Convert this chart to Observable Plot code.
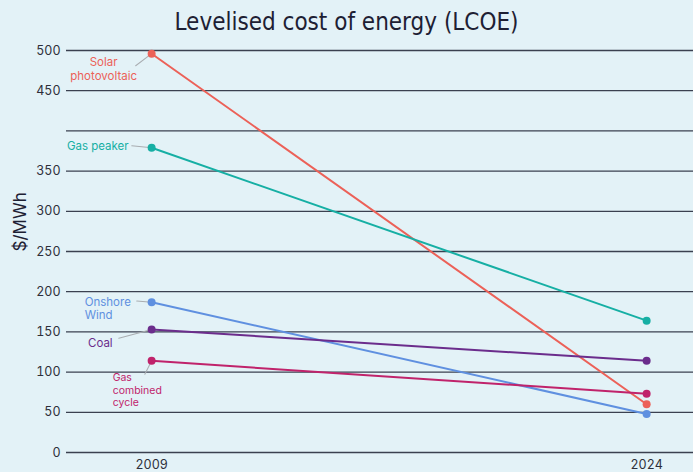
<!DOCTYPE html>
<html><head><meta charset="utf-8">
<script src="https://cdn.jsdelivr.net/npm/d3@7"></script>
<script src="https://cdn.jsdelivr.net/npm/@observablehq/plot@0.6"></script>
<style>
html,body{margin:0;padding:0;background:#e3f2f7;width:693px;height:472px;overflow:hidden;}
#title{height:40px;line-height:44px;text-align:center;font-family:"Liberation Sans Narrow","DejaVu Sans Condensed",sans-serif;font-size:24px;color:#1d2033;}
#chart svg{display:block;}
</style></head><body>
<div id="title">Levelised cost of energy (LCOE)</div>
<div id="chart"></div>
<script>
const series = ["Solar photovoltaic", "Gas peaker", "Onshore wind", "Coal", "Gas combined cycle"];
const seriesLabels = ["Solar\nphotovoltaic", "Gas peaker", "Onshore\nWind", "Coal", "Gas\ncombined\ncycle"];
const years = [2009, 2024];
const values2009 = [496, 379, 187, 153, 114];
const values2024 = [60, 164, 48, 114, 73];
const gridTicks = [0, 50, 100, 150, 200, 250, 300, 350, 400, 450, 500];
const yTickLabels = [0, 50, 100, 150, 200, 250, 300, 350, 450, 500];
const yLabel = "$/MWh";

const colors = ["#ec6158", "#16afa4", "#5f90e0", "#6b2d8c", "#c0236b"];
const labelStyle = [
  {anchor: "middle", dx: -48, dy: 15, lineHeight: 1.25, fontSize: 11.5, rotate: 233, length: 20},
  {anchor: "end", dx: -23, dy: -2, lineHeight: 1.2, fontSize: 11.5, rotate: 276, length: 20},
  {anchor: "start", dx: -67, dy: 6, lineHeight: 1.2, fontSize: 11.5, rotate: 274, length: 15},
  {anchor: "end", dx: -39, dy: 13, lineHeight: 1.2, fontSize: 11.5, rotate: 255, length: 34},
  {anchor: "start", dx: -39, dy: 29, lineHeight: 1.2, fontSize: 10.5, rotate: 207, length: 15}
];

const rows = [];
series.forEach((s, i) => {
  rows.push({series: s, year: years[0], value: values2009[i], label: seriesLabels[i]});
  rows.push({series: s, year: years[1], value: values2024[i], label: seriesLabels[i]});
});

const leaderShape = {draw(context, l) { context.moveTo(0, 0); context.lineTo(0, -l); }};

const labelMarks = [];
series.forEach((s, i) => {
  const st = labelStyle[i];
  const r = rows.filter(d => d.series === s && d.year === years[0]);
  labelMarks.push(Plot.vector(r, {x: "year", y: "value", anchor: "start", rotate: st.rotate, length: st.length,
    shape: leaderShape, stroke: "#a9adb1", strokeWidth: 1}));
  labelMarks.push(Plot.text(r, {x: "year", y: "value", text: "label", textAnchor: st.anchor, dx: st.dx, dy: st.dy,
    lineHeight: st.lineHeight, fill: colors[i], fontSize: st.fontSize}));
});

const chart = Plot.plot({
  width: 693,
  height: 432,
  marginTop: 10,
  marginBottom: 20,
  marginLeft: 66,
  marginRight: 0,
  style: {background: "transparent", fontFamily: "Inter, 'Liberation Sans', sans-serif"},
  x: {domain: [2006.42, 2025.42]},
  y: {domain: [0, 500]},
  color: {domain: series, range: colors},
  marks: [
    Plot.ruleY(gridTicks, {stroke: "#3b4150", strokeWidth: 1.3}),
    Plot.axisY(yTickLabels, {tickSize: 0, tickPadding: 6, fontSize: 12.5, label: null, color: "#2d2f3a"}),
    Plot.axisX(years, {tickSize: 0, tickPadding: 8, fontSize: 12.5, tickFormat: d => String(d), label: null, color: "#2d2f3a"}),
    Plot.text([yLabel], {frameAnchor: "left", dx: -46, rotate: -90, fontSize: 17, fill: "#1d2033"}),
    ...labelMarks,
    Plot.line(rows, {x: "year", y: "value", z: "series", stroke: "series", strokeWidth: 2}),
    Plot.dot(rows, {x: "year", y: "value", fill: "series", r: 4})
  ]
});
document.getElementById("chart").appendChild(chart);
</script>
</body></html>
